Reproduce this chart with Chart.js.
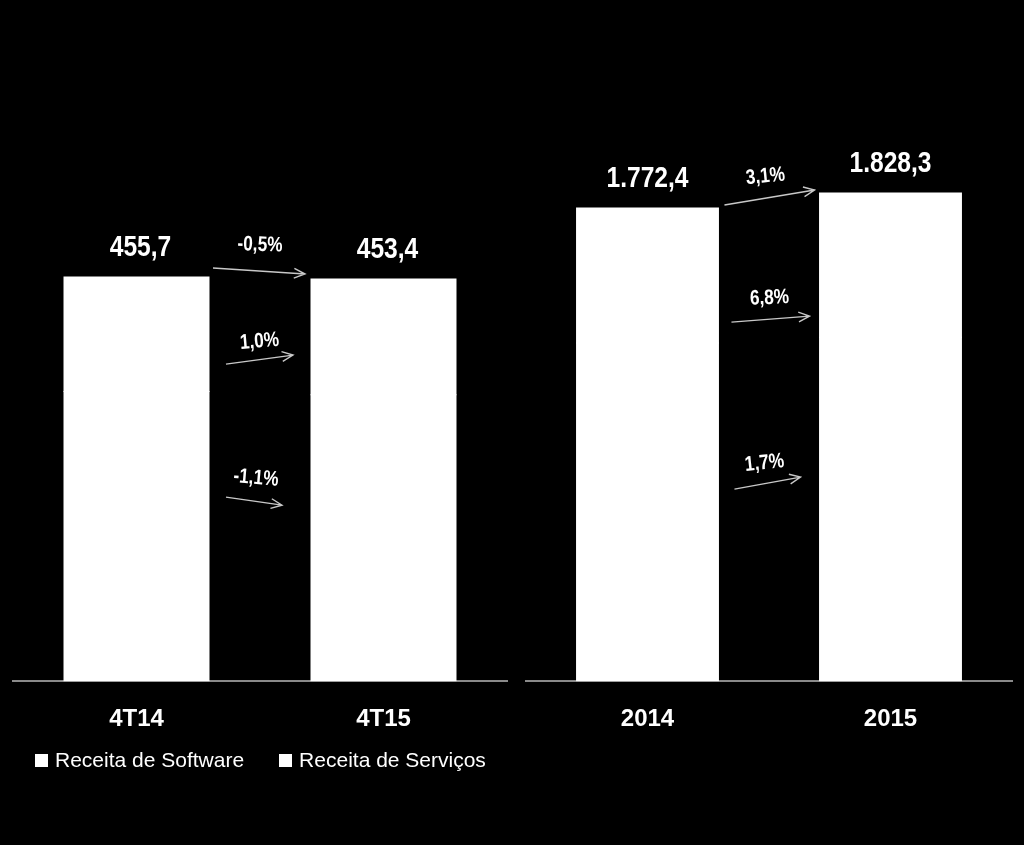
<!doctype html>
<html lang="pt-BR">
<head>
<meta charset="UTF-8">
<title>Receita</title>
<style>
    * { margin: 0; padding: 0; box-sizing: border-box; }
    body { background: #000; width: 1024px; height: 845px; overflow: hidden; position: relative; }
    canvas { position: absolute; top: 0; }
    #chartQ { left: 0; }
    #chartY { left: 520px; }
    #legend {
        position: absolute; left: 35px; top: 748px;
        display: flex; align-items: center;
        font-family: 'Liberation Sans', Arial, sans-serif;
        font-size: 21px; line-height: 24px; color: #fff;
    }
    #legend .item { display: flex; align-items: center; margin-right: 35px; }
    #legend .sw { width: 13px; height: 13px; margin-right: 7px; }
</style>
</head>
<body>

<canvas id="chartQ" width="520" height="845"></canvas>
<canvas id="chartY" width="504" height="845"></canvas>
<div id="legend"></div>

<script src="https://cdn.jsdelivr.net/npm/chart.js"></script>
<script>
    const FONT = "'Liberation Sans', Arial, sans-serif";

    // trimestre
    const quarters = ['4T14', '4T15'];
    const softwareQ = [326.5, 322.9];
    const servicesQ = [129.2, 130.5];
    const growthQ = ['-0,5%', '1,0%', '-1,1%'];

    // ano
    const years = ['2014', '2015'];
    const softwareY = [1267.1, 1288.6];
    const servicesY = [505.3, 539.7];
    const growthY = ['3,1%', '6,8%', '1,7%'];

    const seriesNames = ['Receita de Software', 'Receita de Serviços'];

    function fmt(v) {
        const [i, d] = v.toFixed(1).split('.');
        return i.replace(/\B(?=(\d{3})+(?!\d))/g, '.') + ',' + d;
    }

    // condensed text (no narrow font installed)
    function narrowText(ctx, text, x, y, size, angle) {
        ctx.save();
        ctx.translate(x, y);
        if (angle) ctx.rotate(angle);
        ctx.scale(0.82, 1);
        ctx.font = 'bold ' + size + 'px ' + FONT;
        ctx.fillText(text, 0, 0);
        ctx.restore();
    }

    // totals above the bars + growth arrows between them
    const notes = {
        id: 'notes',
        afterDatasetsDraw(chart, args, opts) {
            const ctx = chart.ctx;
            const y = chart.scales.y;
            const bars = chart.getDatasetMeta(1).data;
            const sums = chart.data.labels.map((_, i) =>
                chart.data.datasets.reduce((s, d) => s + d.data[i], 0));

            ctx.save();
            ctx.fillStyle = '#fff';
            ctx.textAlign = 'center';
            ctx.textBaseline = 'middle';
            bars.forEach((bar, i) => {
                narrowText(ctx, fmt(sums[i]), bar.x + opts.valueShift,
                    y.getPixelForValue(sums[i]) - opts.valueGap, 30);
            });

            const right0 = bars[0].x + bars[0].width / 2;
            const left1 = bars[1].x - bars[1].width / 2;
            opts.arrows.forEach((ar, k) => {
                const x0 = right0 + ar.dx0, x1 = left1 - ar.dx1;
                const y0 = y.getPixelForValue(ar.from), y1 = y.getPixelForValue(ar.to);
                const ang = Math.atan2(y1 - y0, x1 - x0);
                const h = 12;
                ctx.strokeStyle = '#c8c8c8';
                ctx.lineWidth = 1.4;
                ctx.beginPath();
                ctx.moveTo(x0, y0);
                ctx.lineTo(x1, y1);
                ctx.moveTo(x1 - h * Math.cos(ang - 0.42), y1 - h * Math.sin(ang - 0.42));
                ctx.lineTo(x1, y1);
                ctx.lineTo(x1 - h * Math.cos(ang + 0.42), y1 - h * Math.sin(ang + 0.42));
                ctx.stroke();

                narrowText(ctx, opts.growth[k], (x0 + x1) / 2 + ar.tx, (y0 + y1) / 2 - ar.ty, 21, ang * 0.6);
            });
            ctx.restore();
        }
    };

    function makeChart(id, labels, soft, serv, growth, max, barPct, pad, shift, arrows) {
        return new Chart(document.getElementById(id), {
            type: 'bar',
            data: {
                labels: labels,
                datasets: [
                    { label: seriesNames[0], data: soft, backgroundColor: '#ffffff', borderWidth: 0, inflateAmount: 0.5 },
                    { label: seriesNames[1], data: serv, backgroundColor: '#ffffff', borderWidth: 0, inflateAmount: 0.5 }
                ]
            },
            options: {
                responsive: false,
                animation: false,
                layout: { padding: pad },
                datasets: { bar: { categoryPercentage: 1, barPercentage: barPct } },
                scales: {
                    x: {
                        stacked: true,
                        grid: { display: false, drawTicks: false },
                        border: { display: true, color: '#8a8a8a', width: 2 },
                        ticks: { color: '#fff', padding: 24, font: { family: FONT, size: 24, weight: 'bold' } }
                    },
                    y: { stacked: true, display: false, min: 0, max: max }
                },
                plugins: {
                    legend: { display: false },
                    tooltip: { enabled: false },
                    notes: { valueGap: 29, valueShift: shift, growth: growth, arrows: arrows }
                }
            },
            plugins: [notes]
        });
    }

    const chartQ = makeChart('chartQ', quarters, softwareQ, servicesQ, growthQ, 655.3, 0.587,
        { left: 13, right: 13, top: 100, bottom: 87 }, 4,
        [
            { from: 465.8, to: 459.1, dx0: 4, dx1: 6, tx: 1, ty: 26 },
            { from: 357.5, to: 367.7, dx0: 17, dx1: 18, tx: 0, ty: 18 },
            { from: 207.5, to: 198.5, dx0: 17, dx1: 29, tx: 2, ty: 23 }
        ]);

    const chartY = makeChart('chartY', years, softwareY, servicesY, growthY, 2176.9, 0.584,
        { left: 6, right: 12, top: 100, bottom: 87 }, 0,
        [
            { from: 1783.4, to: 1839.6, dx0: 6, dx1: 5, tx: -4, ty: 21 },
            { from: 1345, to: 1367.5, dx0: 13, dx1: 10, tx: -1, ty: 21 },
            { from: 719.4, to: 764.3, dx0: 16, dx1: 19, tx: -3, ty: 20 }
        ]);

    // legend built from the dataset labels
    const legend = document.getElementById('legend');
    chartQ.data.datasets.forEach(ds => {
        const item = document.createElement('div');
        item.className = 'item';
        const sw = document.createElement('span');
        sw.className = 'sw';
        sw.style.background = ds.backgroundColor;
        const txt = document.createElement('span');
        txt.textContent = ds.label;
        item.appendChild(sw);
        item.appendChild(txt);
        legend.appendChild(item);
    });
</script>
</body>
</html>
